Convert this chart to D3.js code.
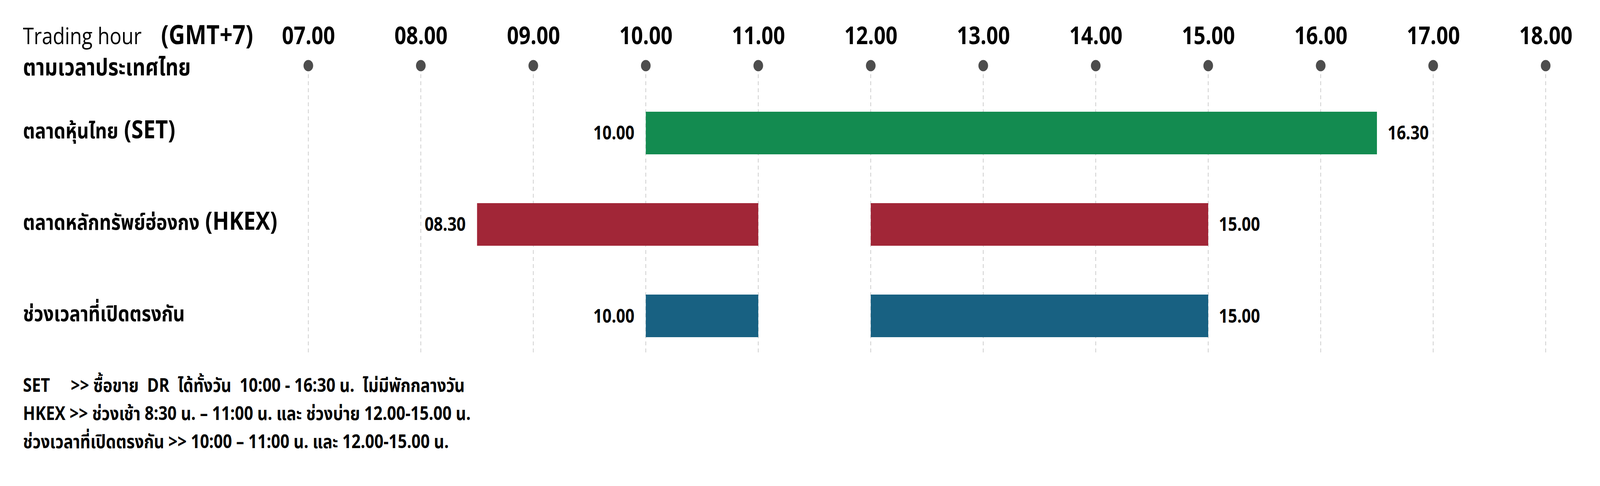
<!DOCTYPE html>
<html>
<head>
<meta charset="utf-8">
<script src="https://cdn.jsdelivr.net/npm/d3@7"></script>
<style>
  html, body { margin: 0; padding: 0; background: #fff; overflow: hidden; }
  svg { display: block; width: 100vw; height: 100vh; }
  text { font-family: "Open Sans", "Noto Sans Thai", "Noto Sans", "DejaVu Sans", sans-serif; fill: #000; }
</style>
</head>
<body>
<div id="chart"></div>
<script>
// rows of the chart, top to bottom
const markets = ['ตลาดหุ้นไทย (SET)', 'ตลาดหลักทรัพย์ฮ่องกง (HKEX)', 'ช่วงเวลาที่เปิดตรงกัน'];
const marketColors = ['#138b50', '#a12637', '#186182'];
// trading sessions per row, hours in GMT+7
const sessionStarts = [[10], [8.5, 12], [10, 12]];
const sessionEnds = [[16.5], [11, 15], [11, 15]];
// hour ticks on top
const hourTicks = [7, 8, 9, 10, 11, 12, 13, 14, 15, 16, 17, 18];
const hourLabels = ['07.00', '08.00', '09.00', '10.00', '11.00', '12.00', '13.00', '14.00', '15.00', '16.00', '17.00', '18.00'];
const notes = [
    'SET     >> ซื้อขาย  DR  ได้ทั้งวัน  10:00 - 16:30 น.  ไม่มีพักกลางวัน',
    'HKEX >> ช่วงเช้า 8:30 น. – 11:00 น. และ ช่วงบ่าย 12.00-15.00 น.',
    'ช่วงเวลาที่เปิดตรงกัน >> 10:00 – 11:00 น. และ 12.00-15.00 น.'
];

const width = 4800;
const height = 1244;
const labelX = 69;

const fmtHour = h => {
    const hh = Math.floor(h);
    const mm = Math.round((h - hh) * 60);
    return String(hh).padStart(2, '0') + '.' + String(mm).padStart(2, '0');
};

const xScale = d3.scaleLinear()
    .domain([7, 18])
    .range([925, 4637]);

const yScale = d3.scaleBand()
    .domain(markets)
    .range([161, 988])
    .padding(0.534);

// viewBox filling the window, whatever its size
const svg = d3.select('#chart')
    .append('svg')
    .attr('viewBox', `0 0 ${width} ${height}`)
    .attr('preserveAspectRatio', 'none');

// header text
svg.append('text')
    .attr('x', labelX)
    .attr('y', 113)
    .style('font-size', '59px')
    .style('font-weight', 400)
    .text('Trading hour');

svg.append('text')
    .attr('x', 483)
    .attr('y', 113)
    .style('font-size', '68px')
    .style('font-weight', 700)
    .text('(GMT+7)');

svg.append('text')
    .attr('x', labelX)
    .attr('y', 193)
    .style('font-size', '60px')
    .style('font-weight', 700)
    .text('ตามเวลาประเทศไทย');

// top axis: labels, dots and dashed grid
const xAxis = svg.append('g')
    .attr('transform', 'translate(0,113)')
    .call(d3.axisTop(xScale)
        .tickValues(hourTicks)
        .tickFormat((d, i) => hourLabels[i])
        .tickSize(0)
        .tickPadding(0));

xAxis.select('.domain').remove();
xAxis.selectAll('.tick text')
    .attr('y', 0)
    .attr('dy', 0)
    .style('font-size', '62px')
    .style('font-weight', 700)
    .style('font-family', '"Open Sans", sans-serif')
    .attr('fill', '#000');

svg.append('g')
    .selectAll('line')
    .data(hourTicks)
    .join('line')
    .attr('x1', d => xScale(d))
    .attr('x2', d => xScale(d))
    .attr('y1', 190)
    .attr('y2', 907)
    .attr('stroke', '#c8c8c8')
    .attr('stroke-width', 2)
    .attr('stroke-dasharray', '10,8');

svg.append('g')
    .selectAll('circle')
    .data(hourTicks)
    .join('circle')
    .attr('cx', d => xScale(d))
    .attr('cy', 168)
    .attr('r', 14.5)
    .attr('fill', '#4d4d4d');

// row labels: thai name, latin code in brackets a bit larger
const rowLabels = svg.append('g')
    .selectAll('text')
    .data(markets)
    .join('text')
    .attr('x', labelX)
    .attr('y', d => yScale(d) + yScale.bandwidth() / 2 + 14)
    .style('font-size', '55px')
    .style('font-weight', 700);

rowLabels.append('tspan')
    .text(d => d.split(' (')[0]);

rowLabels.filter(d => d.includes(' ('))
    .append('tspan')
    .style('font-size', '65px')
    .text(d => ' (' + d.split(' (')[1]);

// bars
const sessions = [];
markets.forEach((m, i) => {
    sessionStarts[i].forEach((s, j) => {
        sessions.push({ market: m, color: marketColors[i], start: s, end: sessionEnds[i][j] });
    });
});

svg.append('g')
    .selectAll('rect')
    .data(sessions)
    .join('rect')
    .attr('x', d => xScale(d.start))
    .attr('y', d => yScale(d.market))
    .attr('width', d => xScale(d.end) - xScale(d.start))
    .attr('height', yScale.bandwidth())
    .attr('fill', d => d.color);

// open / close labels per row
const rowEnds = markets.map((m, i) => ({
    market: m,
    open: d3.min(sessionStarts[i]),
    close: d3.max(sessionEnds[i])
}));

const endLabels = svg.append('g')
    .style('font-size', '48px')
    .style('font-weight', 700);

endLabels.selectAll('.open')
    .data(rowEnds)
    .join('text')
    .attr('class', 'open')
    .attr('x', d => xScale(d.open) - 34)
    .attr('y', d => yScale(d.market) + yScale.bandwidth() / 2 + 17)
    .attr('text-anchor', 'end')
    .text(d => fmtHour(d.open));

endLabels.selectAll('.close')
    .data(rowEnds)
    .join('text')
    .attr('class', 'close')
    .attr('x', d => xScale(d.close) + 32)
    .attr('y', d => yScale(d.market) + yScale.bandwidth() / 2 + 17)
    .text(d => fmtHour(d.close));

// notes under the chart
svg.append('g')
    .selectAll('text')
    .data(notes)
    .join('text')
    .attr('x', labelX)
    .attr('y', (d, i) => 1003 + i * 72)
    .attr('xml:space', 'preserve')
    .style('white-space', 'pre')
    .style('font-size', '48px')
    .style('font-weight', 700)
    .text(d => d);
</script>
</body>
</html>
